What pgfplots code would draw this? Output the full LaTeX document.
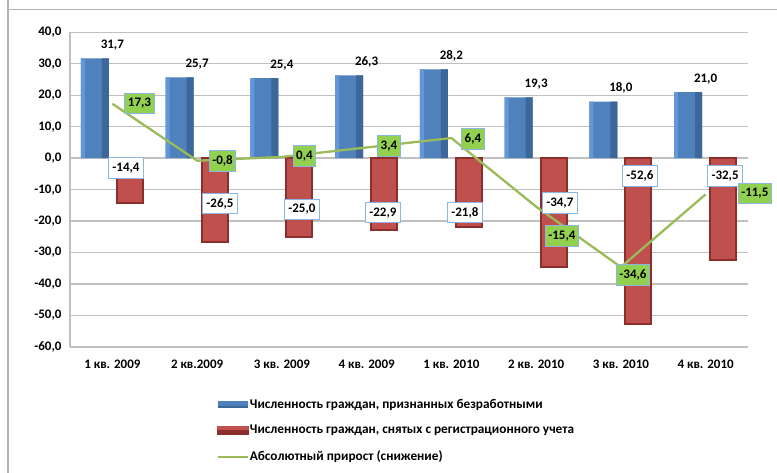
\documentclass[border=0pt]{standalone}
\usepackage{fontspec}
\setmainfont{Carlito}
\usepackage{pgfplots}
\pgfplotsset{compat=1.18}
\definecolor{bL}{HTML}{6297DA}
\definecolor{bM}{HTML}{4F81BD}
\definecolor{bD}{HTML}{3D6699}
\definecolor{rM}{HTML}{C0504D}
\definecolor{rD}{HTML}{8C2F2C}
\definecolor{gLine}{HTML}{9BBB59}
\definecolor{gBox}{HTML}{92D050}
\definecolor{boxB}{HTML}{8EB4E3}
\definecolor{gridg}{HTML}{C0C0C0}
\definecolor{frameg}{HTML}{B4B4B4}
\pgfplotstableread{
x blue red green
0 31.7 -14.4 17.3
1 25.7 -26.5 -0.8
2 25.4 -25.0 0.4
3 26.3 -22.9 3.4
4 28.2 -21.8 6.4
5 19.3 -34.7 -15.4
6 18.0 -52.6 -34.6
7 21.0 -32.5 -11.5
}\datatable
\begin{document}
\begin{tikzpicture}[x=1pt,y=1pt]
\draw[frameg, line width=1.5pt] (-62,420) -- (-62,337.7) -- (760,337.7);
\draw[frameg, line width=1.5pt] (-62,337.7) -- (-62,-200);
\begin{axis}[
  at={(0pt,0pt)}, anchor=south west,
  scale only axis, width=678pt, height=314.7pt,
  xmin=-0.5, xmax=7.5, ymin=-60, ymax=40,
  xtick={0,1,2,3,4,5,6,7},
  xticklabels={1 кв. 2009,2 кв.2009,3 кв. 2009,4 кв. 2009,1 кв. 2010,2 кв. 2010,3 кв. 2010,4 кв. 2010},
  ytick={-60,-50,-40,-30,-20,-10,0,10,20,30,40},
  yticklabels={{-60,0},{-50,0},{-40,0},{-30,0},{-20,0},{-10,0},{0,0},{10,0},{20,0},{30,0},{40,0}},
  ymajorgrids, grid style={gridg, line width=1.4pt},
  axis lines*=left, axis line style={gridg, line width=1.4pt},
  tick style={draw=none},
  xticklabel style={font=\bfseries\fontsize{13}{15}\selectfont, yshift=-9pt},
  yticklabel style={font=\bfseries\fontsize{13}{15}\selectfont, xshift=-5pt},
  clip=false,
  legend style={at={(rel axis cs:0.216,-0.162)}, anchor=north west, draw=none, fill=none,
    font=\bfseries\fontsize{13.3}{15}\selectfont, row sep=13.5pt, inner sep=0pt,
    nodes={inner sep=1pt}},
  legend cell align=left,
]
\addplot[ybar, bar width=28pt, bar shift=-17.5pt, draw=none, fill=bM,
  nodes near coords,
  point meta=explicit symbolic,
  every node near coord/.append style={font=\bfseries\fontsize{13}{15}\selectfont, anchor=base, inner sep=0pt, yshift=10pt, black},
  legend image code/.code={\fill[bM] (0pt,-3.5pt) rectangle (30pt,3.5pt); \fill[bD] (0pt,-3.5pt) rectangle (30pt,-1pt);}]
  coordinates {(0,31.7)[31,7] (1,25.7)[25,7] (2,25.4)[25,4] (3,26.3)[26,3] (4,28.2)[28,2] (5,19.3)[19,3] (6,18.0)[18,0] (7,21.0)[21,0]};
\addlegendentry{Численность граждан, признанных безработными}
\addplot[ybar, bar width=26pt, bar shift=17.5pt, fill=rM, draw=rD, line width=2pt,
  legend image code/.code={\fill[rM] (0pt,-3.5pt) rectangle (30pt,3.5pt); \fill[rD] (0pt,-3.5pt) rectangle (30pt,-1pt);}]
  table[x=x, y=red] {\datatable};
\addlegendentry{Численность граждан, снятых с регистрационного учета}
% bevel strips of the blue bars (same data)
\addplot[ybar, forget plot, bar width=4pt, bar shift=-29.5pt, draw=none, fill=bL] table[x=x, y=blue] {\datatable};
\addplot[ybar, forget plot, bar width=7pt, bar shift=-7pt, draw=none, fill=bD] table[x=x, y=blue] {\datatable};
\addplot[gLine, line width=2.3pt, mark=none,
  legend image code/.code={\draw[gLine, line width=2.3pt] (0pt,0pt) -- (30pt,0pt);}]
  table[x=x, y=green] {\datatable};
\addlegendentry{Абсолютный прирост (снижение)}
% red labels
\tikzset{rlab/.style={draw=boxB, line width=1pt, fill=white, font=\bfseries\fontsize{13}{15}\selectfont, inner xsep=4pt, inner ysep=5pt},
         glab/.style={draw=boxB, line width=1pt, fill=gBox, font=\bfseries\fontsize{13}{15}\selectfont, inner xsep=3pt, inner ysep=5pt}}
\node[rlab] at (axis cs:0.161,-3.1) {-14,4};
\node[rlab] at (axis cs:1.27,-14.4) {-26,5};
\node[rlab] at (axis cs:2.237,-16.3) {-25,0};
\node[rlab] at (axis cs:3.193,-17.3) {-22,9};
\node[rlab] at (axis cs:4.16,-17.3) {-21,8};
\node[rlab] at (axis cs:5.28,-14.2) {-34,7};
\node[rlab] at (axis cs:6.226,-5.7) {-52,6};
\node[rlab] at (axis cs:7.23,-5.7) {-32,5};
% green labels
\node[glab] at (axis cs:0.32,17.4) {17,3};
\node[glab] at (axis cs:1.30,-0.9) {-0,8};
\node[glab] at (axis cs:2.267,0.7) {0,4};
\node[glab] at (axis cs:3.264,3.9) {3,4};
\node[glab] at (axis cs:4.255,6.1) {6,4};
\node[glab] at (axis cs:5.305,-24.7) {-15,4};
\node[glab] at (axis cs:6.143,-37.1) {-34,6};
\node[glab, anchor=west] at (axis cs:7.38,-11.1) {-11,5};
\end{axis}
\pgfresetboundingbox
\useasboundingbox (-70,-125) rectangle (707,347);
\end{tikzpicture}
\end{document}
